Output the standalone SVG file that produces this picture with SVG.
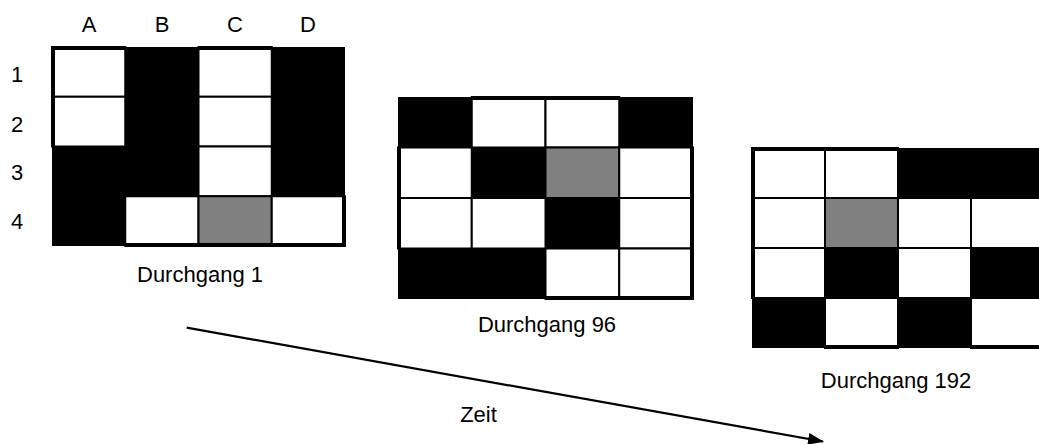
<svg xmlns="http://www.w3.org/2000/svg" width="1039" height="444" viewBox="0 0 1039 444">
  <defs>
    <style>
      .bg { fill: #000; }
      .w { fill: #fff; stroke: #000; stroke-width: 2; }
      .g { fill: #808080; stroke: #000; stroke-width: 2; }
      .frame { fill: none; stroke: #000; stroke-width: 3; }
      .lbl { font-family: "Liberation Sans", Arial, sans-serif; font-size: 22px; fill: #000; text-anchor: middle; }
      .arrow { fill: none; stroke: #000; stroke-width: 2.2; }
    </style>
    <marker id="head" viewBox="0 0 16 12" refX="15" refY="6" markerWidth="16" markerHeight="12" markerUnits="userSpaceOnUse" orient="auto">
      <path d="M0,0 L16,6 L0,12 Z" fill="#000"/>
    </marker>
  </defs>

  <rect width="1039" height="444" fill="#fff"/>

  <!-- column / row headings -->
  <g id="headings">
    <text class="lbl" x="89" y="32">A</text>
    <text class="lbl" x="162" y="32">B</text>
    <text class="lbl" x="235" y="32">C</text>
    <text class="lbl" x="308" y="32">D</text>
    <text class="lbl" x="17" y="82">1</text>
    <text class="lbl" x="17" y="132">2</text>
    <text class="lbl" x="17" y="180">3</text>
    <text class="lbl" x="17" y="229">4</text>
  </g>

  <!-- pass 1: 4x4 grid, cell 73.25 x 49.75 -->
  <g id="grid-1" transform="translate(52,47)">
    <rect class="bg" width="293" height="199"/>
    <rect class="w" x="0" y="0" width="73.25" height="49.75"/>
    <rect class="w" x="146.5" y="0" width="73.25" height="49.75"/>
    <rect class="w" x="0" y="49.75" width="73.25" height="49.75"/>
    <rect class="w" x="146.5" y="49.75" width="73.25" height="49.75"/>
    <rect class="w" x="146.5" y="99.5" width="73.25" height="49.75"/>
    <rect class="w" x="73.25" y="149.25" width="73.25" height="49.75"/>
    <rect class="g" x="146.5" y="149.25" width="73.25" height="49.75"/>
    <rect class="w" x="219.75" y="149.25" width="73.25" height="49.75"/>
    <rect class="frame" x="1.5" y="1.5" width="290" height="196"/>
    <text class="lbl" x="148" y="234.5">Durchgang 1</text>
  </g>

  <!-- pass 96: cell 73.75 x 50.5 -->
  <g id="grid-96" transform="translate(398,97)">
    <rect class="bg" width="295" height="202"/>
    <rect class="w" x="73.75" y="0" width="73.75" height="50.5"/>
    <rect class="w" x="147.5" y="0" width="73.75" height="50.5"/>
    <rect class="w" x="0" y="50.5" width="73.75" height="50.5"/>
    <rect class="g" x="147.5" y="50.5" width="73.75" height="50.5"/>
    <rect class="w" x="221.25" y="50.5" width="73.75" height="50.5"/>
    <rect class="w" x="0" y="101" width="73.75" height="50.5"/>
    <rect class="w" x="73.75" y="101" width="73.75" height="50.5"/>
    <rect class="w" x="221.25" y="101" width="73.75" height="50.5"/>
    <rect class="w" x="147.5" y="151.5" width="73.75" height="50.5"/>
    <rect class="w" x="221.25" y="151.5" width="73.75" height="50.5"/>
    <rect class="frame" x="1.5" y="1.5" width="292" height="199"/>
    <text class="lbl" x="149" y="234.7">Durchgang 96</text>
  </g>

  <!-- pass 192: cell 73 x 50, right edge runs past the page -->
  <g id="grid-192" transform="translate(752,148)">
    <rect class="bg" width="292" height="200"/>
    <rect class="w" x="0" y="0" width="73" height="50"/>
    <rect class="w" x="73" y="0" width="73" height="50"/>
    <rect class="w" x="0" y="50" width="73" height="50"/>
    <rect class="g" x="73" y="50" width="73" height="50"/>
    <rect class="w" x="146" y="50" width="73" height="50"/>
    <rect class="w" x="219" y="50" width="73" height="50"/>
    <rect class="w" x="0" y="100" width="73" height="50"/>
    <rect class="w" x="146" y="100" width="73" height="50"/>
    <rect class="w" x="73" y="150" width="73" height="50"/>
    <rect class="w" x="219" y="150" width="73" height="50"/>
    <rect class="frame" x="1.5" y="1.5" width="289" height="197"/>
    <text class="lbl" x="144" y="240.3">Durchgang 192</text>
  </g>

  <!-- time axis -->
  <g id="connectors">
    <line class="arrow" x1="186.7" y1="327.7" x2="823" y2="441.5" marker-end="url(#head)"/>
  </g>
  <text id="time-label" class="lbl" x="478.5" y="421.5">Zeit</text>
</svg>
